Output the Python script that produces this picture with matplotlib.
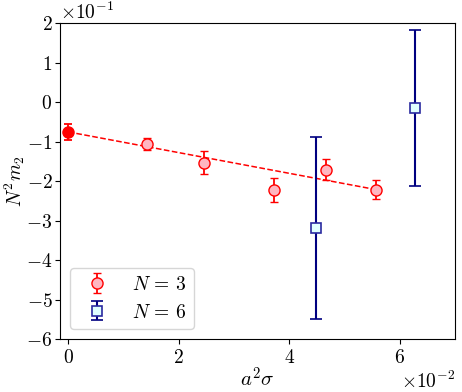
import numpy as np
import matplotlib
matplotlib.use("Agg")
from matplotlib import pyplot as plt

plt.rcParams['font.family'] = 'serif'
plt.rcParams['font.serif'] = ['cmr10']
plt.rcParams['mathtext.fontset'] = 'cm'
plt.rcParams['axes.formatter.use_mathtext'] = True
plt.rcParams['font.size'] = 14

# * Data

# N = 3: first point is the continuum extrapolation
n3_x = [0.0, 0.0143, 0.0246, 0.0372, 0.0467, 0.0557]
n3_y = [-0.0755, -0.107, -0.153, -0.223, -0.171, -0.2215]
n3_err = [0.020, 0.015, 0.030, 0.030, 0.027, 0.025]

# N = 6
n6_x = [0.0448, 0.0628]
n6_y = [-0.318, -0.0148]
n6_err = [0.230, 0.198]

# linear fit through the N = 3 points
fit_x = [0.0, 0.0557]
fit_y = [-0.0755, -0.2215]

# * Plotting

fig = plt.figure(figsize=(4.62, 3.92), dpi=100)
ax = fig.add_axes([0.13, 0.135, 0.855, 0.806])

ax.plot(fit_x, fit_y, '--', color='red', lw=1.1, zorder=1)

ax.errorbar(n3_x[1:], n3_y[1:], yerr=n3_err[1:], fmt='o', ms=8,
            color='red', mfc='#ffb6c1', mec='red', mew=1.0,
            ecolor='red', elinewidth=1.3, capsize=3, capthick=1.3,
            label=r'$N\,=\,3$', zorder=3)
ax.errorbar(n3_x[:1], n3_y[:1], yerr=n3_err[:1], fmt='o', ms=8,
            color='red', mfc='red', mec='red',
            ecolor='red', elinewidth=1.3, capsize=3, capthick=1.3, zorder=3)

ax.errorbar(n6_x, n6_y, yerr=n6_err, fmt='s', ms=7,
            color='navy', mfc='#e0ffff', mec='#2a2aa0', mew=1.2,
            ecolor='navy', elinewidth=1.5, capsize=4, capthick=1.5,
            label=r'$N\,=\,6$', zorder=3)

ax.set_xlim(-0.0015, 0.070)
ax.set_ylim(-0.6, 0.2)
ax.set_xticks([0.0, 0.02, 0.04, 0.06])
ax.set_yticks(np.arange(-0.6, 0.21, 0.1))
ax.ticklabel_format(axis='x', style='sci', scilimits=(-2, -2))
ax.ticklabel_format(axis='y', style='sci', scilimits=(-1, -1))
ax.tick_params(axis='y', pad=2)

ax.set_xlabel(r'$a^2\sigma$', fontsize=15, labelpad=0)
ax.set_ylabel(r'$N^2 m_2$', fontsize=14)
ax.yaxis.set_label_coords(-0.084, 0.5)

ax.legend(loc='lower left', fontsize=14)

fig.savefig('out.png', dpi=100)
